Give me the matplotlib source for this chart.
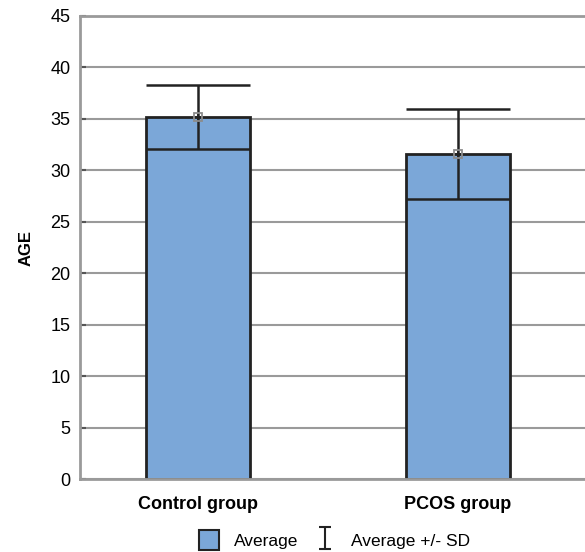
import matplotlib.pyplot as plt
from matplotlib.path import Path
from matplotlib.patches import Patch
from matplotlib.lines import Line2D

plt.rcParams['font.family'] = ['Liberation Sans', 'DejaVu Sans']

groups = ["Control group", "PCOS group"]
means = [35.2, 31.6]
sds = [3.1, 4.4]

bar_color = "#7BA7D8"
edge = "#222222"
grid_gray = "#9a9a9a"

fig = plt.figure(figsize=(5.85, 5.52), dpi=100)
ax = fig.add_axes([80 / 585, 1 - 479 / 552, 1 - 80 / 585, (479 - 16) / 552])

x = list(range(len(groups)))
w = 0.40
ax.bar(x, means, width=w, color=bar_color, edgecolor=edge, linewidth=2, zorder=2)

# SD lines: vertical through the mean, horizontal caps across the bar width
lows = [m - s for m, s in zip(means, sds)]
highs = [m + s for m, s in zip(means, sds)]
ax.vlines(x, lows, highs, color=edge, linewidth=1.8, zorder=3)
ax.hlines(lows, [i - w / 2 for i in x], [i + w / 2 for i in x], color=edge, linewidth=1.8, zorder=3)
ax.hlines(highs, [i - w / 2 for i in x], [i + w / 2 for i in x], color=edge, linewidth=1.8, zorder=3)
ax.plot(x, means, linestyle="none", marker="s", markersize=6, markerfacecolor="none",
        markeredgecolor="#8c8c8c", markeredgewidth=1.3, zorder=4)
ax.plot(x, means, linestyle="none", marker="+", markersize=5, color=edge,
        markeredgewidth=1.3, zorder=5)

ax.set_ylim(0, 45)
ax.set_xlim(-0.455, 1.49)
ax.set_yticks(range(0, 46, 5))
ax.yaxis.grid(True, color=grid_gray, linewidth=1.5)
ax.set_axisbelow(True)
for s in ["left", "bottom", "top"]:
    ax.spines[s].set_color(grid_gray)
    ax.spines[s].set_linewidth(2)
ax.spines["right"].set_visible(False)

ax.set_xticks(x)
ax.set_xticklabels(groups, fontsize=13, fontweight="bold")
ax.tick_params(axis="x", direction="in", length=4, width=1, color="#555555", pad=12)
ax.tick_params(axis="y", direction="in", length=4, width=1.5, color="#555555", labelsize=13, pad=7)
ax.set_ylabel("AGE", fontsize=12, fontweight="bold", labelpad=12)

ibar = Path([(-0.5, -1), (0.5, -1), (0, -1), (0, 1), (-0.5, 1), (0.5, 1)],
            [Path.MOVETO, Path.LINETO, Path.MOVETO, Path.LINETO, Path.MOVETO, Path.LINETO])
handles = [
    Patch(facecolor=bar_color, edgecolor=edge, linewidth=1.5),
    Line2D([], [], linestyle="none", marker=ibar, markersize=16, markeredgewidth=1.5,
           color=edge, markeredgecolor=edge),
]
fig.legend(handles, ["Average", "Average +/- SD"], loc="center", ncol=2, frameon=False,
           bbox_to_anchor=(0.572, 0.022), fontsize=12.5, handlelength=1.1, handleheight=1.4,
           columnspacing=1.0, handletextpad=0.9)

fig.savefig("out.png", dpi=100)
